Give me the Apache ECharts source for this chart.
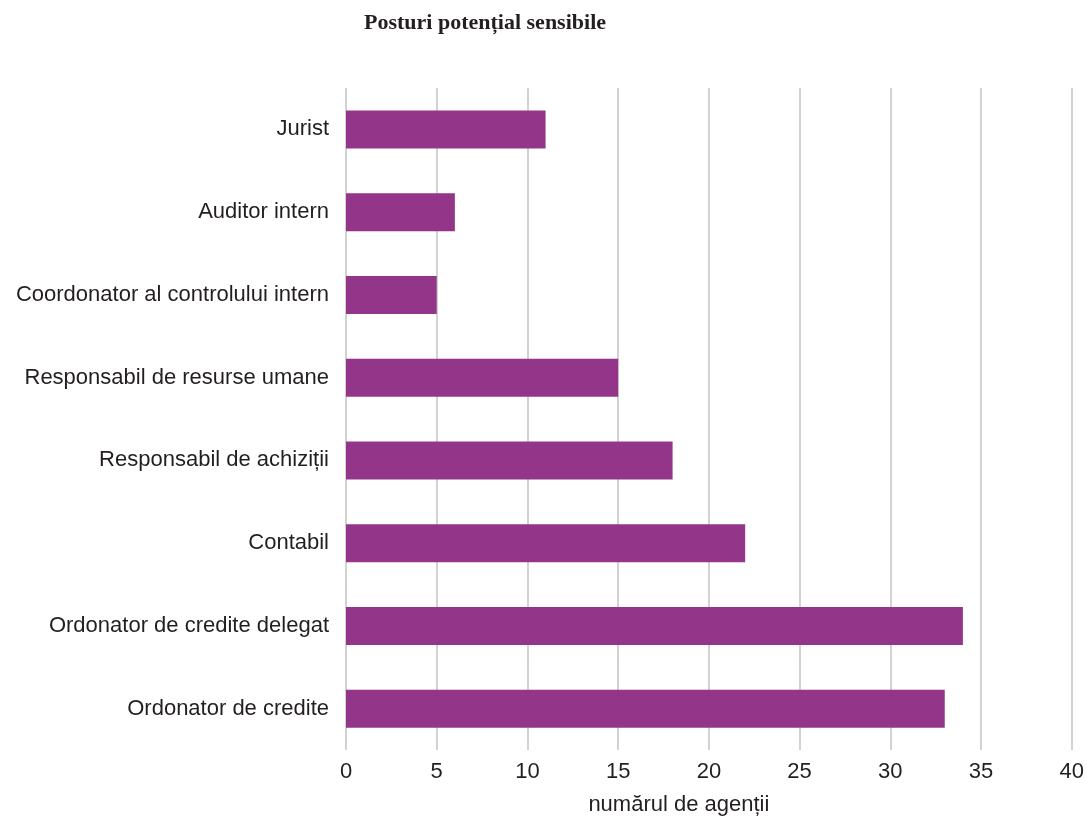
<!DOCTYPE html>
<html><head><meta charset="utf-8">
<script src="https://cdn.jsdelivr.net/npm/echarts@6/dist/echarts.min.js"></script>
<style>html,body{margin:0;padding:0;background:#fff}#c{width:1087px;height:823px}</style>
</head><body><div id="c"></div>
<script>
const categories = ["Ordonator de credite","Ordonator de credite delegat","Contabil","Responsabil de achiziții","Responsabil de resurse umane","Coordonator al controlului intern","Auditor intern","Jurist"];
const values = [33,34,22,18,15,5,6,11];
const chart = echarts.init(document.getElementById('c'));
chart.setOption({
  animation:false,
  title:{text:"Posturi potențial sensibile",left:359,top:7,textStyle:{fontFamily:"Liberation Serif, DejaVu Serif, serif",fontWeight:"bold",fontSize:22,color:"#231f20"}},
  grid:{left:346,right:14,top:88,bottom:73,containLabel:false},
  xAxis:{type:"value",min:0,max:40,interval:5,
    name:"numărul de agenții",nameLocation:"middle",nameGap:44,
    nameTextStyle:{fontFamily:"Liberation Sans, Arial, sans-serif",fontSize:22,color:"#231f20",padding:[0,60,0,0]},
    axisLabel:{fontFamily:"Liberation Sans, Arial, sans-serif",fontSize:22,color:"#231f20",margin:11},
    axisLine:{show:false},axisTick:{show:false},
    splitLine:{show:true,lineStyle:{color:"#d2d2d2",width:2}}},
  yAxis:{type:"category",data:categories,
    axisLabel:{fontFamily:"Liberation Sans, Arial, sans-serif",fontSize:22,color:"#231f20",margin:17},
    axisLine:{show:false},axisTick:{show:false}},
  series:[{type:"bar",data:values,barWidth:38,itemStyle:{color:"#93368a"}}]
});
</script></body></html>
